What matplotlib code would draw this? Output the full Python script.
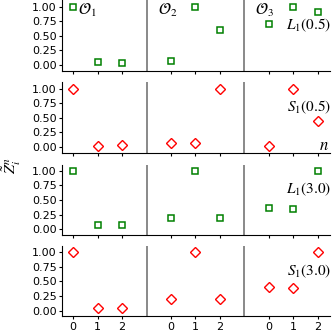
import numpy as np
import matplotlib
matplotlib.use("Agg")
import matplotlib.pyplot as plt

plt.rcParams['mathtext.fontset'] = 'stix'

# observable groups and positions within each group
groups = [r"$\mathcal{O}_1$", r"$\mathcal{O}_2$", r"$\mathcal{O}_3$"]
group_label_x = [0.2, 3.45, 7.45]
n_vals = [0, 1, 2]

row_labels = [r"$L_1(0.5)$", r"$S_1(0.5)$", r"$L_1(3.0)$", r"$S_1(3.0)$"]
row_kinds = ["L", "S", "L", "S"]

L1_05 = [[1.00, 0.05, 0.03], [0.07, 1.00, 0.60], [0.70, 1.00, 0.90]]
S1_05 = [[1.00, 0.02, 0.03], [0.07, 0.07, 1.00], [0.02, 1.00, 0.45]]
L1_30 = [[1.00, 0.07, 0.07], [0.20, 1.00, 0.20], [0.37, 0.35, 1.00]]
S1_30 = [[1.00, 0.04, 0.05], [0.20, 1.00, 0.20], [0.40, 0.38, 1.00]]
rows = [L1_05, S1_05, L1_30, S1_30]

fig = plt.figure(figsize=(3.34, 3.32), dpi=100)
left, width, height = 0.186, 0.802, 0.2125
bottoms = [0.787, 0.540, 0.292, 0.047]

for r, (vals, lab, kind) in enumerate(zip(rows, row_labels, row_kinds)):
    ax = fig.add_axes([left, bottoms[r], width, height])
    xs_all = []
    for g, gv in enumerate(vals):
        xs = [g * 4 + n for n in n_vals]
        xs_all += xs
        if kind == "L":
            ax.plot(xs, gv, ls="none", marker="s", ms=4.5, mfc="none",
                    mec="green", mew=1.1)
        else:
            ax.plot(xs, gv, ls="none", marker="D", ms=5.2, mfc="none",
                    mec="red", mew=1.0)
    for sep in [3, 7]:
        ax.axvline(sep, color="gray", lw=1.3)
    ax.set_xlim(-0.45, 10.5)
    ax.set_ylim(-0.1, 1.11)
    ax.set_yticks([0, 0.25, 0.5, 0.75, 1.0])
    ax.set_xticks(xs_all)
    if r == 3:
        ax.set_xticklabels([str(n) for n in n_vals] * 3)
    else:
        ax.set_xticklabels([])
    ax.tick_params(labelsize=8, length=2.5, pad=1.5)
    ax.spines['top'].set_visible(False)
    ax.spines['right'].set_visible(False)
    ax.text(10.55, 0.68, lab, ha="right", va="center", fontsize=11)
    if r == 0:
        for gx, gl in zip(group_label_x, groups):
            ax.text(gx, 0.93, gl, ha="left", va="center", fontsize=11.5)
    if r == 1:
        ax.text(10.45, 0.03, r"$n$", ha="right", va="center", fontsize=12)

fig.text(0.035, 0.5, r"$\tilde{Z}_i^n$", rotation=90, ha="center", va="center",
         fontsize=11.5)

fig.savefig("out.png", dpi=100)
